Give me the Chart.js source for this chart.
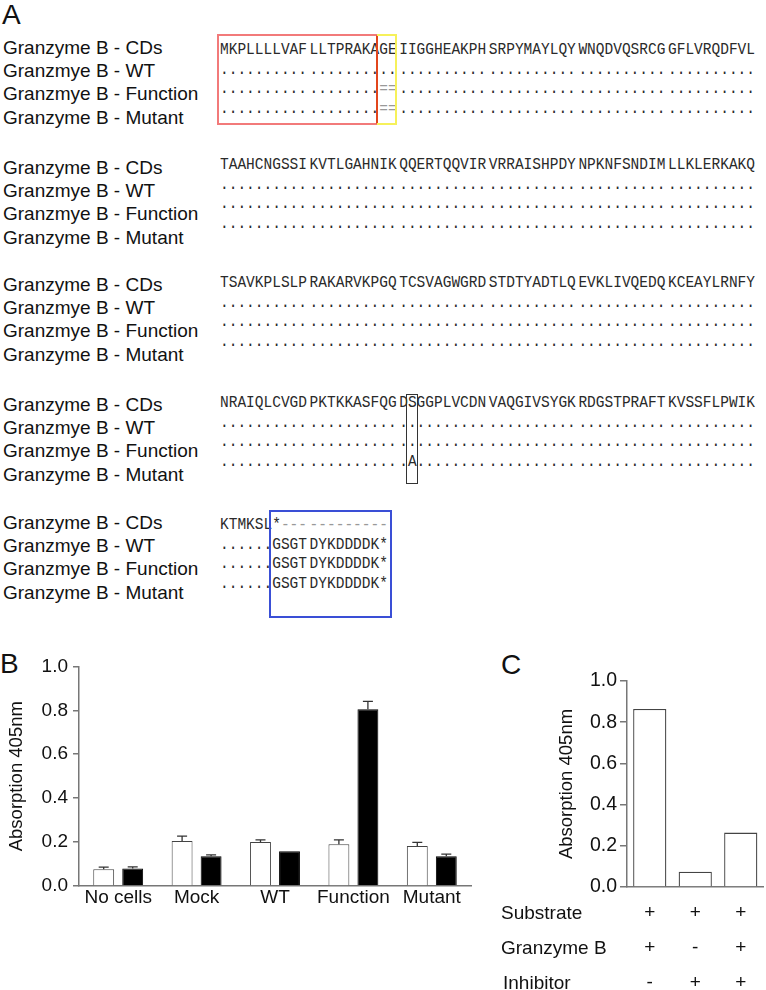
<!DOCTYPE html>
<html>
<head>
<meta charset="utf-8">
<script src="https://cdn.jsdelivr.net/npm/chart.js@4.4.1/dist/chart.umd.min.js"></script>
<style>
  body { margin: 0; background: #fff; width: 766px; height: 990px; position: relative; overflow: hidden;
         font-family: "Liberation Sans", Arial, sans-serif; }
  .lab { position: absolute; font-size: 19px; line-height: 22px; color: #111; white-space: pre; }
  .seq { position: absolute; font-family: "Liberation Mono", monospace; font-size: 14.5px; line-height: 18px;
         color: #2a2a2a; white-space: pre; transform: scaleY(1.1); transform-origin: 0 50%; }
  .seq .g { color: #999; }
  .panel { position: absolute; font-size: 28px; line-height: 30px; color: #111; }
  .box { position: absolute; box-sizing: border-box; }
  canvas { position: absolute; }
</style>
</head>
<body>
<div class="panel" style="left:2px;top:0px">A</div>
<div class="panel" style="left:0px;top:649px">B</div>
<div class="panel" style="left:501px;top:650px">C</div>

<div id="align"></div>

<div class="box" style="left:217px;top:34px;width:161px;height:91px;border:2px solid #f27a7a;border-right-color:#e2461c"></div>
<div class="box" style="left:377px;top:34px;width:20px;height:91px;border:2px solid #f6f15a;border-left:none"></div>
<div class="box" style="left:406px;top:394px;width:12px;height:90px;border:1.5px solid #333"></div>
<div class="box" style="left:269px;top:510px;width:123px;height:108px;border:2px solid #3a4fd6"></div>

<canvas id="chartB" width="480" height="270" style="left:0;top:650px"></canvas>
<canvas id="chartC" width="306" height="330" style="left:460px;top:660px"></canvas>

<script>
// ---- panel A: sequence alignment ----
const rowNames = ['Granzyme B - CDs', 'Granzmye B - WT', 'Granzmye B - Function', 'Granzyme B - Mutant'];
const dots = '.......... .......... .......... .......... .......... ..........';
const alignGroups = [
  ['MKPLLLLVAF LLTPRAKAGE IIGGHEAKPH SRPYMAYLQY WNQDVQSRCG GFLVRQDFVL',
   dots,
   '.......... ........== .......... .......... .......... ..........',
   '.......... ........== .......... .......... .......... ..........'],
  ['TAAHCNGSSI KVTLGAHNIK QQERTQQVIR VRRAISHPDY NPKNFSNDIM LLKLERKAKQ', dots, dots, dots],
  ['TSAVKPLSLP RAKARVKPGQ TCSVAGWGRD STDTYADTLQ EVKLIVQEDQ KCEAYLRNFY', dots, dots, dots],
  ['NRAIQLCVGD PKTKKASFQG DSGGPLVCDN VAQGIVSYGK RDGSTPRAFT KVSSFLPWIK',
   dots, dots,
   '.......... .......... .A........ .......... .......... ..........'],
  ['KTMKSL*--- ---------', '......GSGT DYKDDDDK*', '......GSGT DYKDDDDK*', '......GSGT DYKDDDDK*']
];
const labelY = [48, 168, 285, 405, 523];
const seqY = [50, 165, 283, 403, 525];

const host = document.getElementById('align');
alignGroups.forEach(function(group, g) {
  group.forEach(function(line, r) {
    const lab = document.createElement('div');
    lab.className = 'lab';
    lab.style.left = '3px';
    lab.style.top = (labelY[g] + r * 23.2 - 11) + 'px';
    lab.textContent = rowNames[r];
    host.appendChild(lab);

    line.split(' ').forEach(function(block, k) {
      const d = document.createElement('div');
      d.className = 'seq';
      d.style.left = (220 + k * 89.6) + 'px';
      d.style.top = (seqY[g] + r * 19.6 - 9) + 'px';
      d.innerHTML = block.replace(/([=\-]+)/g, '<span class="g">$1</span>');
      host.appendChild(d);
    });
  });
});

// ---- panel B ----
const bCategories = ['No cells', 'Mock', 'WT', 'Function', 'Mutant'];
const bOpen = [0.076, 0.205, 0.200, 0.190, 0.182];
const bOpenErr = [0.010, 0.022, 0.010, 0.020, 0.017];
const bFilled = [0.080, 0.135, 0.158, 0.805, 0.136];
const bFilledErr = [0.007, 0.007, 0, 0.036, 0.009];
const yTickLabels = ['0.0', '0.2', '0.4', '0.6', '0.8', '1.0'];

// ---- panel C ----
const cSubstrate = ['+', '+', '+'];
const cGranzyme = ['+', '-', '+'];
const cInhibitor = ['-', '+', '+'];
const cRowNames = ['Substrate', 'Granzyme B', 'Inhibitor'];
const cValues = [0.864, 0.074, 0.264];

const fontFamily = '"Liberation Sans", Arial, sans-serif';

const errorBars = {
  id: 'errorBars',
  afterDatasetsDraw(chart) {
    const ctx = chart.ctx;
    const y = chart.scales.y;
    chart.data.datasets.forEach(function(ds, i) {
      if (!ds.errors) return;
      chart.getDatasetMeta(i).data.forEach(function(bar, j) {
        const e = ds.errors[j];
        if (!e) return;
        const top = y.getPixelForValue(ds.data[j] + e);
        ctx.save();
        ctx.strokeStyle = '#333';
        ctx.lineWidth = 1.3;
        ctx.beginPath();
        ctx.moveTo(bar.x, bar.y);
        ctx.lineTo(bar.x, top);
        ctx.moveTo(bar.x - 5, top);
        ctx.lineTo(bar.x + 5, top);
        ctx.stroke();
        ctx.restore();
      });
    });
  }
};

new Chart(document.getElementById('chartB'), {
  type: 'bar',
  data: {
    labels: bCategories,
    datasets: [{
      data: bOpen,
      errors: bOpenErr,
      backgroundColor: '#fff',
      borderColor: '#444',
      borderWidth: 1,
      categoryPercentage: 0.74,
      barPercentage: 0.72
    }, {
      data: bFilled,
      errors: bFilledErr,
      backgroundColor: '#000',
      borderColor: '#000',
      borderWidth: 1,
      categoryPercentage: 0.74,
      barPercentage: 0.72
    }]
  },
  options: {
    responsive: false,
    animation: false,
    layout: { padding: { top: 16, right: 9, left: 0, bottom: 0 } },
    plugins: { legend: { display: false }, tooltip: { enabled: false } },
    scales: {
      x: {
        grid: { display: false, drawTicks: false },
        border: { color: '#777', width: 1.5 },
        ticks: { color: '#111', font: { size: 19, family: fontFamily }, padding: 0, maxRotation: 0, autoSkip: false },
        afterFit(s) { s.height = 34; }
      },
      y: {
        min: 0, max: 1,
        ticks: { stepSize: 0.2, color: '#111', padding: 5, font: { size: 19, family: fontFamily },
                 callback: function(v, i) { return yTickLabels[i]; } },
        grid: { drawOnChartArea: false, tickLength: 6, color: '#777', lineWidth: 1.5 },
        border: { color: '#777', width: 1.5 },
        title: { display: true, text: 'Absorption 405nm', color: '#111',
                 font: { size: 18.5, family: fontFamily }, padding: { top: 6, bottom: 0 } },
        afterFit(s) { s.width = 79; }
      }
    }
  },
  plugins: [errorBars]
});

new Chart(document.getElementById('chartC'), {
  type: 'bar',
  data: {
    labels: cSubstrate.map(function(s, i) { return [s, cGranzyme[i], cInhibitor[i]]; }),
    datasets: [{
      data: cValues,
      backgroundColor: '#fff',
      borderColor: '#444',
      borderWidth: 1.3,
      categoryPercentage: 0.73,
      barPercentage: 1
    }]
  },
  options: {
    responsive: false,
    animation: false,
    layout: { padding: { top: 21, right: 2.5, left: 0, bottom: 0 } },
    plugins: { legend: { display: false }, tooltip: { enabled: false } },
    scales: {
      x: {
        grid: { display: false, drawTicks: false },
        border: { color: '#777', width: 1.5 },
        ticks: { color: '#111', font: { size: 19, family: fontFamily, lineHeight: 1.842 }, padding: 8,
                 maxRotation: 0, autoSkip: false },
        afterFit(s) { s.height = 103; }
      },
      y: {
        min: 0, max: 1,
        ticks: { stepSize: 0.2, color: '#111', padding: 3, font: { size: 19.5, family: fontFamily },
                 callback: function(v, i) { return yTickLabels[i]; } },
        grid: { drawOnChartArea: false, tickLength: 7, color: '#777', lineWidth: 1.5 },
        border: { color: '#777', width: 1.5 },
        title: { display: true, text: 'Absorption 405nm', color: '#111',
                 font: { size: 18.5, family: fontFamily }, padding: { top: 96, bottom: 0 } },
        afterFit(s) { s.width = 167; }
      }
    }
  }
});

cRowNames.forEach(function(name, i) {
  const d = document.createElement('div');
  d.className = 'lab';
  d.style.left = (501 + (i === 2 ? 2 : 0)) + 'px';
  d.style.top = (913 + i * 35 - 11) + 'px';
  d.textContent = name;
  document.body.appendChild(d);
});
</script>
</body>
</html>
